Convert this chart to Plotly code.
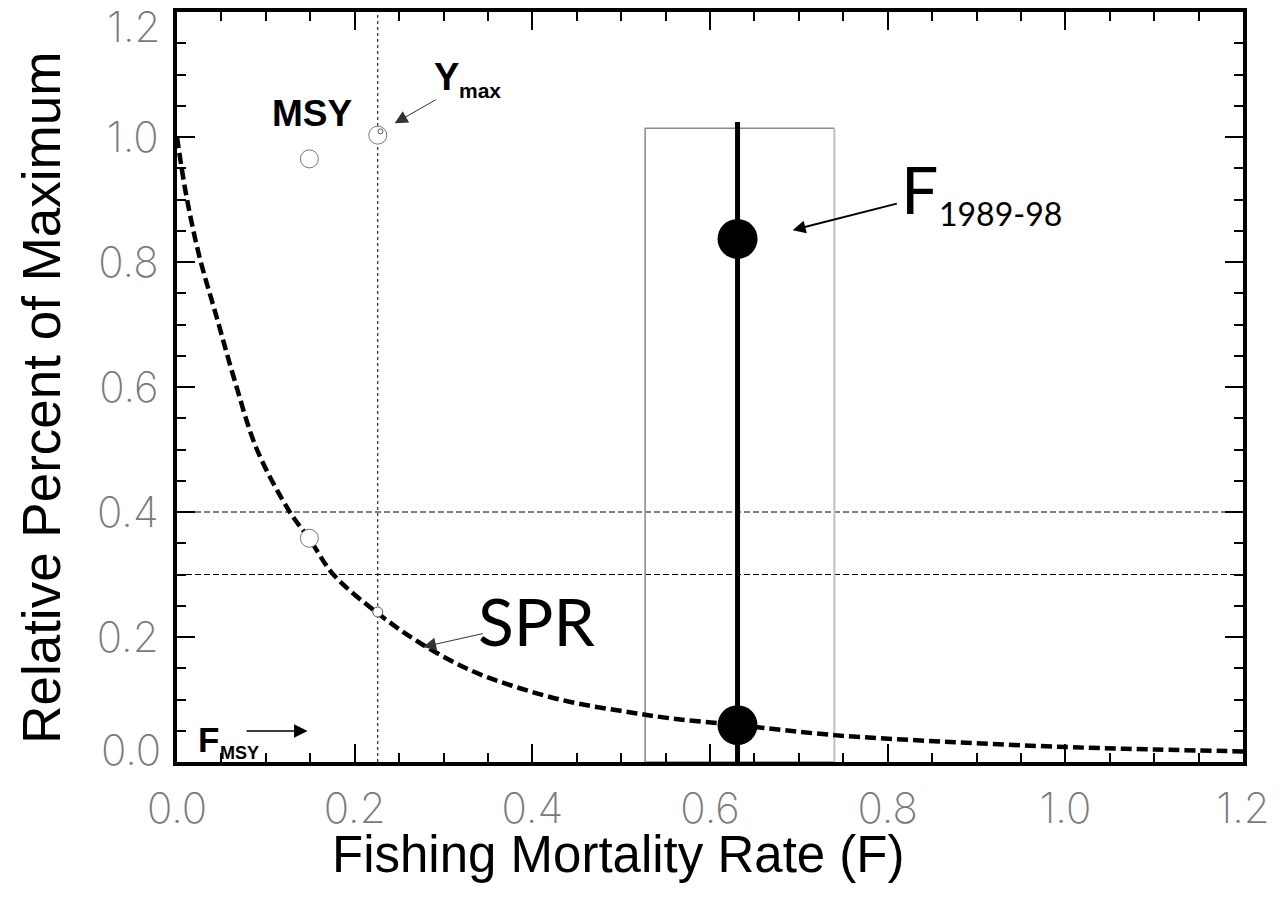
import plotly.graph_objects as go

# ---- data ----
spr_f = [0.0, 0.01, 0.025, 0.045, 0.065, 0.09, 0.127, 0.15, 0.176, 0.226, 0.274,
         0.33, 0.386, 0.443, 0.499, 0.555, 0.631, 0.74, 0.87, 1.0, 1.1, 1.2]
spr_y = [1.0, 0.91, 0.81, 0.71, 0.61, 0.50, 0.40, 0.355, 0.30, 0.238, 0.19,
         0.147, 0.118, 0.096, 0.082, 0.070, 0.059, 0.043, 0.032, 0.024, 0.020, 0.017]

f_msy = 0.149          # F at MSY
f_max = 0.226          # F at Ymax
msy_yield = 0.965
ymax_yield = 1.003
msy_spr = 0.358
fmax_spr = 0.240

f_recent = 0.631       # F 1989-98
f_recent_points = [0.837, 0.059]
f_recent_top = 1.024
box_f = [0.527, 0.740]
box_top = 1.014

ref_levels = [0.4, 0.3]

x_ticks = [0.0, 0.2, 0.4, 0.6, 0.8, 1.0, 1.2]
x_ticklabels = ["0.0", "0.2", "0.4", "0.6", "0.8", "1.0", "1.2"]
y_ticks = [0.0, 0.2, 0.4, 0.6, 0.8, 1.0, 1.2]
y_ticklabels = ["0.0", "0.2", "0.4", "0.6", "0.8", "1.0", "1.2"]

fig = go.Figure()

# reference lines
for lv in ref_levels:
    fig.add_trace(go.Scatter(x=[0, 1.2], y=[lv, lv], mode="lines",
                             line=dict(color="black", width=1, dash="6px,3px"),
                             hoverinfo="skip", showlegend=False))
fig.add_trace(go.Scatter(x=[f_max, f_max], y=[0, 1.2], mode="lines",
                         line=dict(color="black", width=1, dash="dot"),
                         hoverinfo="skip", showlegend=False))

# range box
fig.add_trace(go.Scatter(x=[box_f[1], box_f[0], box_f[0], box_f[1]],
                         y=[box_top, box_top, 0, 0], mode="lines",
                         line=dict(color="#8a8a8a", width=1.5),
                         hoverinfo="skip", showlegend=False))
fig.add_trace(go.Scatter(x=[box_f[1], box_f[1]], y=[0, box_top], mode="lines",
                         line=dict(color="#c0c0c0", width=2),
                         hoverinfo="skip", showlegend=False))

# SPR curve
fig.add_trace(go.Scatter(x=spr_f, y=spr_y, mode="lines", line_shape="spline",
                         line=dict(color="black", width=4.5, dash="11px,5px"),
                         showlegend=False))

# F 1989-98 vertical bar and points
fig.add_trace(go.Scatter(x=[f_recent, f_recent], y=[0, f_recent_top], mode="lines",
                         line=dict(color="black", width=5), showlegend=False))
fig.add_trace(go.Scatter(x=[f_recent] * len(f_recent_points), y=f_recent_points,
                         mode="markers", marker=dict(color="black", size=40, line=dict(width=0)),
                         showlegend=False))

# open circles
fig.add_trace(go.Scatter(x=[f_msy, f_max, f_msy], y=[msy_yield, ymax_yield, msy_spr],
                         mode="markers",
                         marker=dict(color="white", size=18, line=dict(color="#777777", width=1)),
                         showlegend=False))
fig.add_trace(go.Scatter(x=[f_max], y=[fmax_spr], mode="markers",
                         marker=dict(color="white", size=10, line=dict(color="#555555", width=1)),
                         showlegend=False))
fig.add_trace(go.Scatter(x=[f_max + 0.003], y=[ymax_yield + 0.006], mode="markers",
                         marker=dict(color="white", size=5, line=dict(color="#555555", width=1)),
                         showlegend=False))

arial = "Liberation Sans"
geo = dict(family="Lato, Liberation Sans", color="black")
tickfont = dict(family="Inter, Lato", size=42, color="#7a7a7a", weight=200)

ann = []
# MSY label
ann.append(dict(x=0.152, y=1.038, text="<b>MSY</b>", showarrow=False,
                font=dict(size=37, family=arial, color="black")))
# Ymax
ann.append(dict(x=0.303, y=1.096, text="<b>Y</b>", showarrow=False,
                font=dict(size=38, family=arial, color="black")))
ann.append(dict(x=0.341, y=1.074, text="<b>max</b>", showarrow=False,
                font=dict(size=21, family=arial, color="black")))
ann.append(dict(x=0.245, y=1.022, ax=0.293, ay=1.061, axref="x", ayref="y", text="",
                showarrow=True, arrowhead=2, arrowsize=2.6, arrowwidth=1, arrowcolor="#333"))
# F 1989-98
ann.append(dict(x=0.836, y=0.918, text="F", showarrow=False,
                font=dict(size=66, **geo)))
ann.append(dict(x=0.927, y=0.878, text="1989-98", showarrow=False,
                font=dict(size=32, **geo)))
ann.append(dict(x=0.693, y=0.851, ax=0.812, ay=0.894, axref="x", ayref="y", text="",
                showarrow=True, arrowhead=2, arrowsize=1.3, arrowwidth=2, arrowcolor="black"))
# SPR
ann.append(dict(x=0.405, y=0.226, text="SPR", showarrow=False,
                font=dict(size=66, **geo)))
ann.append(dict(x=0.277, y=0.184, ax=0.346, ay=0.206, axref="x", ayref="y", text="",
                showarrow=True, arrowhead=2, arrowsize=2.6, arrowwidth=1, arrowcolor="#333"))
# F MSY
ann.append(dict(x=0.036, y=0.036, text="<b>F</b>", showarrow=False,
                font=dict(size=35, family=arial, color="black")))
ann.append(dict(x=0.070, y=0.014, text="<b>MSY</b>", showarrow=False,
                font=dict(size=18, family=arial, color="black")))
ann.append(dict(x=0.147, y=0.0496, ax=0.0766, ay=0.0496, axref="x", ayref="y", text="",
                showarrow=True, arrowhead=2, arrowsize=1.8, arrowwidth=1.5, arrowcolor="black"))

# end y tick labels, nudged inward as in the reference
ann.append(dict(xref="paper", yref="y", x=0, y=y_ticks[-1], xanchor="right", yanchor="middle",
                xshift=-14, yshift=-14, text=y_ticklabels[-1], showarrow=False, font=tickfont))
ann.append(dict(xref="paper", yref="y", x=0, y=y_ticks[0], xanchor="right", yanchor="middle",
                xshift=-14, yshift=13, text=y_ticklabels[0], showarrow=False, font=tickfont))
y_ticktext_axis = [""] + y_ticklabels[1:-1] + [""]

# axis titles
ann.append(dict(xref="paper", yref="paper", x=0.414, y=-0.123, yanchor="middle",
                text="Fishing Mortality Rate (F)", showarrow=False,
                font=dict(size=51, family=arial, color="black")))
ann.append(dict(xref="paper", yref="paper", x=-0.127, y=0.485, xanchor="center",
                yanchor="middle",
                text="Relative Percent of Maximum", showarrow=False, textangle=-90,
                font=dict(size=53, family=arial, color="black")))

fig.update_layout(
    width=1288, height=899,
    margin=dict(l=169, r=53, t=4, b=145),
    paper_bgcolor="white", plot_bgcolor="white",
    annotations=ann,
    xaxis=dict(range=[0, 1.2], tickvals=x_ticks, ticktext=x_ticklabels, automargin=False,
               showgrid=False, zeroline=False, showline=True, linewidth=4, linecolor="black",
               mirror="ticks", ticks="inside", ticklen=18, tickwidth=1.5, tickcolor="black",
               minor=dict(ticks="inside", ticklen=9, tickwidth=1.5, dtick=0.05, tick0=0,
                          tickcolor="black", showgrid=False),
               tickfont=tickfont, ticklabelstandoff=7, ticklabeloverflow="allow"),
    yaxis=dict(range=[0, 1.2], tickvals=y_ticks, ticktext=y_ticktext_axis, automargin=False,
               showgrid=False, zeroline=False, showline=True, linewidth=4, linecolor="black",
               mirror="ticks", ticks="inside", ticklen=18, tickwidth=1.5, tickcolor="black",
               minor=dict(ticks="inside", ticklen=9, tickwidth=1.5, dtick=0.05, tick0=0,
                          tickcolor="black", showgrid=False),
               tickfont=tickfont, ticklabelstandoff=6, ticklabeloverflow="allow"),
)

fig.write_html("out.html")
